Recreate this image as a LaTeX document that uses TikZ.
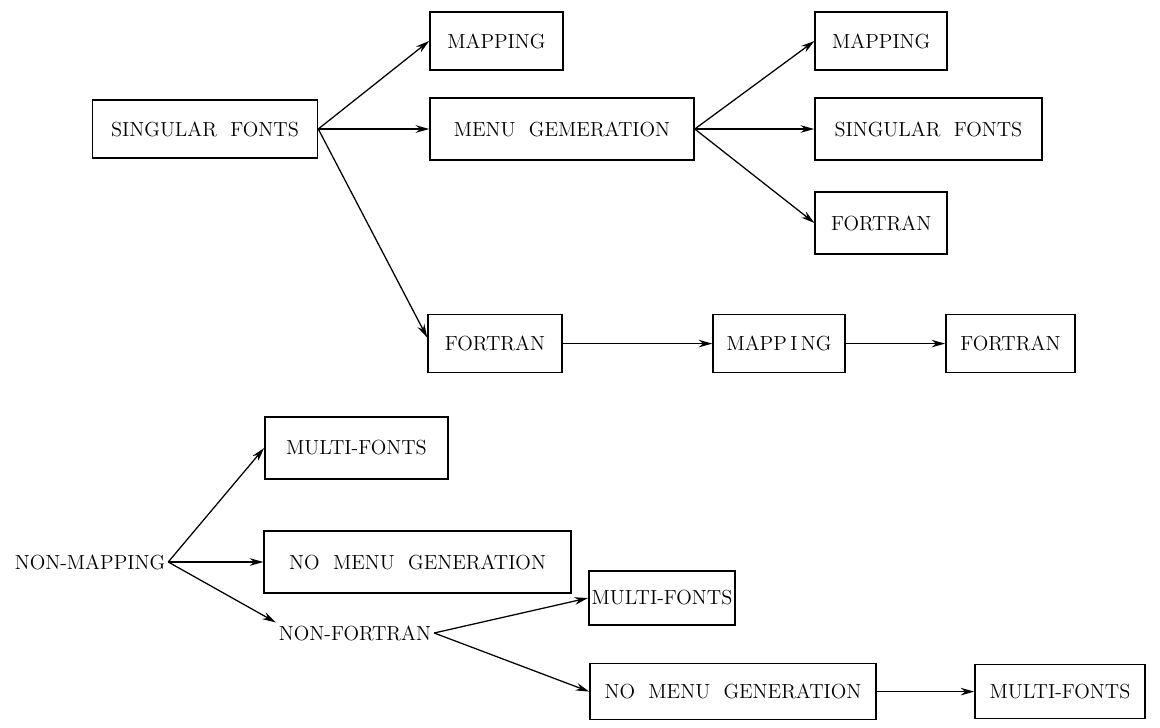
\documentclass[tikz,border=0pt]{standalone}
\usepackage{tikz}
\usetikzlibrary{arrows.meta,positioning}
\tikzset{% 
  feature box/.style={%
    draw,
    line width=1.1pt,
    minimum height=1.5cm,
    inner sep=2pt,
    font=\fontsize{14.5}{16}\selectfont
  }
}
\tikzset{% 
  feature label/.style={%
    inner sep=2pt,
    font=\fontsize{14.5}{16}\selectfont
  }
}
\tikzset{% 
  leads to/.style={%
    line width=0.9pt,
    shorten >=0pt,
    -{Stealth[length=3.4mm,width=1.9mm]}
  }
}

\begin{document}
\begin{tikzpicture}
  \useasboundingbox (0,0) rectangle (29,-18.175);
  % upper tree
  \node [feature box, minimum width=5.625cm, minimum height=1.45cm] (singular) at (5.125, -3.225) {SINGULAR\ \ FONTS};
  \node [feature box, minimum width=3.325cm, minimum height=1.45cm] (mapA) at (12.41, -1.025) {MAPPING};
  \node [feature box, minimum width=6.6cm, minimum height=1.55cm] (menu) at (14.05, -3.225) {MENU\ \ GEMERATION};
  \node [feature box, minimum width=3.3cm, minimum height=1.45cm] (mapB) at (22.03, -1.025) {MAPPING};
  \node [feature box, minimum width=5.675cm, minimum height=1.55cm] (singularB) at (23.21, -3.225) {SINGULAR\ \ FONTS};
  \node [feature box, minimum width=3.3cm, minimum height=1.55cm] (fortB) at (22.03, -5.575) {FORTRAN};
  \node [feature box, minimum width=3.35cm, minimum height=1.45cm] (fortA) at (12.375, -8.59) {FORTRAN};
  \node [feature box, minimum width=3.3cm, minimum height=1.45cm] (mapC) at (19.475, -8.59) {MAPP\,I\,NG};
  \node [feature box, minimum width=3.225cm, minimum height=1.45cm] (fortC) at (25.26, -8.59) {FORTRAN};
  \draw [leads to] (singular.east) to (mapA.west);
  \draw [leads to] (singular.east) to (menu.west);
  \draw [leads to] (singular.east) to ([yshift=0.15cm]fortA.west);
  \draw [leads to] (menu.east) to (mapB.west);
  \draw [leads to] (menu.east) to (singularB.west);
  \draw [leads to] (menu.east) to (fortB.west);
  \draw [leads to] (fortA.east) to (mapC.west);
  \draw [leads to] (mapC.east) to (fortC.west);
  % lower tree
  \node [feature label] (nonmap) at (2.25, -14.05) {NON-MAPPING};
  \node [feature box, minimum width=4.575cm, minimum height=1.55cm] (multiA) at (8.91, -11.2) {MULTI-FONTS};
  \node [feature box, minimum width=7.675cm, minimum height=1.55cm] (nomenuA) at (10.44, -14.05) {NO\ \ MENU\ \ GENERATION};
  \node [feature label] (nonfort) at (8.875, -15.825) {NON-FORTRAN};
  \node [feature box, minimum width=3.625cm, minimum height=1.35cm] (multiB) at (16.55, -14.95) {MULTI-FONTS};
  \node [feature box, minimum width=7.15cm, minimum height=1.4cm] (nomenuB) at (18.325, -17.29) {NO\ \ MENU\ \ GENERATION};
  \node [feature box, minimum width=4.25cm, minimum height=1.35cm] (multiC) at (26.5, -17.29) {MULTI-FONTS};
  \draw [leads to] (nonmap.east) to (multiA.west);
  \draw [leads to] (nonmap.east) to (nomenuA.west);
  \draw [leads to] (nonmap.east) to (nonfort.north west);
  \draw [leads to] (nonfort.east) to (multiB.west);
  \draw [leads to] (nonfort.east) to (nomenuB.west);
  \draw [leads to] (nomenuB.east) to (multiC.west);
\end{tikzpicture}
\end{document}
